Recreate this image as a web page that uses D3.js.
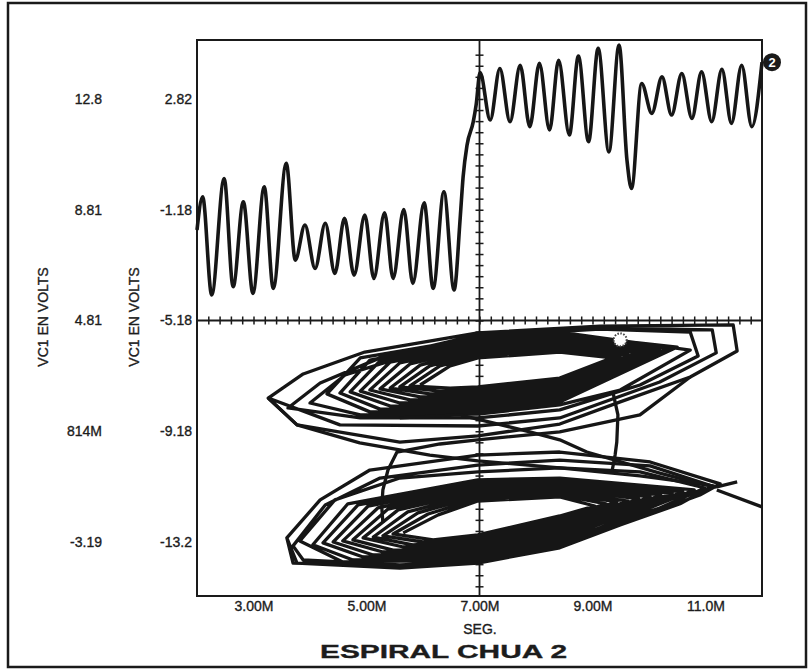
<!DOCTYPE html>
<html>
<head>
<meta charset="utf-8">
<script src="https://cdn.jsdelivr.net/npm/d3@7"></script>
<style>
  body { margin: 0; background: #fff; }
  svg text { font-family: 'Liberation Sans', Arial, sans-serif; fill: #1c1c1c; stroke: #1c1c1c; stroke-width: 0.35px; }
</style>
</head>
<body>
<div id="chart"></div>
<script>

// tick values and labels
var xTickValues = [3, 5, 7, 9, 11]
var xTickLabels = ['3.00M', '5.00M', '7.00M', '9.00M', '11.0M']
var yInnerTicks = [2.82, -1.18, -5.18, -9.18, -13.18]
var yInnerLabels = ['2.82', '-1.18', '-5.18', '-9.18', '-13.2']
var yOuterTicks = [12.8, 8.81, 4.81, 0.814, -3.19]
var yOuterLabels = ['12.8', '8.81', '4.81', '814M', '-3.19']

// VC1 against time (inner axis), peaks and troughs
var traceT = [2.00, 2.10, 2.26, 2.48, 2.64, 2.82, 2.99, 3.19, 3.35, 3.58, 3.74, 3.91, 4.09, 4.27, 4.44, 4.61,
  4.78, 4.97, 5.13, 5.32, 5.47, 5.66, 5.82, 6.02, 6.18, 6.37, 6.55, 6.66, 6.71, 6.78, 6.89, 6.94,
  7.01, 7.19, 7.36, 7.54, 7.72, 7.89, 8.06, 8.24, 8.40, 8.59, 8.75, 8.93, 9.10, 9.29, 9.47, 9.61,
  9.69, 9.87, 10.05, 10.23, 10.40, 10.58, 10.76, 10.93, 11.11, 11.29, 11.46, 11.64, 11.82, 12.00]
var traceV = [-1.91, -0.71, -4.26, -0.05, -3.96, -0.89, -4.20, -0.35, -4.02, 0.50, -3.00, -1.73, -3.30, -1.67, -3.48, -1.49,
  -3.54, -1.37, -3.66, -1.29, -3.66, -1.17, -3.84, -0.93, -4.02, -0.53, -4.08, -1.43, 0.01, 1.16, 2.00, 2.60,
  3.77, 2.06, 3.92, 2.00, 4.04, 1.82, 4.11, 1.70, 4.22, 1.52, 4.37, 1.28, 4.65, 0.91, 4.77, 0.61,
  -0.41, 3.38, 2.30, 3.62, 2.24, 3.74, 2.12, 3.80, 2.00, 3.89, 1.94, 4.04, 1.82, 4.15]

// double scroll (outer axis): loops of the upper scroll, inside out
var upperLoops = [
  [[5.95, 2.48], [6.48, 3.17], [6.97, 3.46], [8.42, 3.67], [9.35, 3.46], [8.42, 2.73], [6.97, 2.41], [6.48, 2.37]],
  [[5.77, 2.45], [6.30, 3.17], [6.97, 3.53], [8.42, 3.74], [9.49, 3.49], [8.42, 2.63], [6.97, 2.30], [6.30, 2.26]],
  [[5.59, 2.41], [6.12, 3.17], [6.97, 3.64], [8.42, 3.85], [9.63, 3.56], [8.42, 2.52], [6.97, 2.19], [6.12, 2.16]],
  [[5.42, 2.37], [5.95, 3.20], [6.97, 3.74], [8.42, 3.96], [9.77, 3.64], [8.42, 2.41], [6.97, 2.08], [5.95, 2.05]],
  [[5.24, 2.34], [5.77, 3.24], [6.97, 3.82], [8.42, 4.03], [9.91, 3.67], [8.42, 2.30], [6.97, 1.98], [5.77, 1.94]],
  [[5.06, 2.30], [5.59, 3.28], [6.97, 3.89], [8.42, 4.11], [10.05, 3.74], [8.42, 2.19], [6.97, 1.87], [5.59, 1.83]],
  [[4.89, 2.26], [5.42, 3.31], [6.97, 3.96], [8.42, 4.18], [10.19, 3.78], [8.42, 2.08], [6.97, 1.76], [5.42, 1.72]],
  [[4.71, 2.23], [5.24, 3.35], [6.97, 4.03], [8.42, 4.25], [10.34, 3.82], [8.42, 1.98], [6.97, 1.65], [5.24, 1.61]],
  [[4.53, 2.19], [5.06, 3.38], [6.97, 4.11], [8.42, 4.32], [10.50, 3.85], [8.42, 1.87], [6.97, 1.54], [5.06, 1.51]],
  [[4.30, 2.16], [4.89, 3.46], [6.97, 4.18], [8.42, 4.39], [10.73, 3.74], [9.49, 2.30], [8.42, 1.76], [6.97, 1.43], [4.89, 1.40]],
  [[4.00, 1.83], [4.62, 2.84], [5.59, 3.46], [6.97, 4.25], [9.13, 4.50], [10.73, 4.39], [10.87, 3.53], [9.84, 2.48], [8.42, 1.58], [6.97, 1.29], [4.89, 1.29]],
  [[3.61, 1.65], [4.18, 2.55], [5.24, 3.46], [6.97, 4.29], [9.13, 4.54], [11.12, 4.47], [11.19, 3.64], [10.19, 2.59], [8.42, 1.29], [6.97, 1.00], [4.53, 1.04]],
  [[3.26, 2.01], [3.88, 2.88], [4.97, 3.67], [6.97, 4.36], [9.13, 4.61], [11.49, 4.65], [11.56, 3.71], [10.73, 2.77], [9.49, 1.87], [8.42, 1.07], [6.97, 0.64], [5.59, 0.42], [3.77, 1.04], [3.26, 2.01]]
]

// loops of the lower scroll, inside out
var lowerLoops = [
  [[5.65, -2.86], [6.27, -2.21], [6.97, -1.71], [8.42, -1.56], [9.04, -1.89], [8.42, -2.25], [6.97, -2.93], [6.18, -3.11]],
  [[5.47, -2.90], [6.09, -2.18], [6.97, -1.63], [8.42, -1.49], [9.24, -1.81], [8.42, -2.36], [6.97, -3.04], [6.00, -3.19]],
  [[5.29, -2.97], [5.91, -2.14], [6.97, -1.53], [8.42, -1.42], [9.43, -1.74], [8.42, -2.46], [6.97, -3.15], [5.82, -3.29]],
  [[5.12, -3.01], [5.73, -2.10], [6.97, -1.45], [8.42, -1.35], [9.63, -1.71], [8.42, -2.57], [6.97, -3.22], [5.65, -3.37]],
  [[4.94, -3.04], [5.56, -2.03], [6.97, -1.38], [8.42, -1.27], [9.82, -1.63], [8.42, -2.68], [6.97, -3.33], [5.47, -3.48]],
  [[4.76, -3.11], [5.38, -2.00], [6.97, -1.31], [8.42, -1.20], [10.02, -1.56], [8.42, -2.79], [6.97, -3.44], [5.29, -3.55]],
  [[4.58, -3.15], [5.20, -1.96], [6.97, -1.20], [8.42, -1.13], [10.21, -1.49], [8.42, -2.90], [6.97, -3.55], [5.12, -3.66]],
  [[4.41, -3.19], [5.03, -1.89], [6.97, -1.13], [8.42, -1.06], [10.41, -1.42], [8.42, -3.01], [6.97, -3.62], [4.94, -3.73]],
  [[4.23, -3.22], [4.85, -1.85], [6.97, -1.06], [8.42, -0.98], [10.60, -1.38], [8.42, -3.11], [6.97, -3.73], [4.76, -3.84]],
  [[4.05, -3.29], [4.67, -1.81], [6.97, -0.95], [8.42, -0.88], [10.80, -1.31], [9.13, -2.68], [8.42, -3.22], [6.97, -3.84], [4.58, -3.91]],
  [[3.82, -3.15], [4.44, -1.67], [5.59, -0.88], [6.97, -0.66], [8.42, -0.51], [9.84, -0.66], [10.99, -1.24], [10.19, -1.96], [9.13, -2.68], [8.42, -3.29], [6.97, -3.91], [5.59, -4.02], [3.88, -3.84]],
  [[3.70, -3.33], [4.27, -1.85], [5.24, -0.88], [6.97, -0.41], [8.42, -0.23], [10.02, -0.44], [11.12, -1.17], [10.55, -1.81], [9.49, -2.57], [8.42, -3.40], [6.97, -3.95], [5.59, -4.13], [3.77, -3.95]],
  [[3.59, -3.04], [4.18, -1.67], [5.06, -0.59], [6.97, -0.05], [8.42, 0.06], [10.02, -0.30], [11.26, -1.09], [10.90, -1.49], [9.84, -2.28], [8.42, -3.29], [6.97, -3.91], [5.59, -4.05], [3.70, -3.95], [3.59, -3.04]]
]

// jumps between the scrolls and the exit at the right
var transits = [
  [[3.26, 2.01], [3.77, 1.04], [4.88, 0.39], [6.12, -0.05], [6.97, -0.26], [8.42, -0.51], [9.84, -0.80], [10.90, -1.09], [11.20, -1.20]],
  [[5.59, 1.29], [6.65, 1.40], [7.89, 0.79], [8.42, 0.50], [8.90, 0.06], [10.19, -0.70], [10.78, -1.02], [11.20, -1.20]],
  [[5.29, -2.50], [5.27, -1.92], [5.29, -1.31], [5.38, -0.59], [5.54, 0.06], [6.30, 0.35], [6.97, 0.50], [8.42, 0.79], [9.84, 1.40], [10.73, 2.77]],
  [[9.36, 2.23], [9.45, 1.40], [9.43, 0.42], [9.40, -0.05], [9.35, -0.59]],
  [[11.20, -1.20], [11.56, -1.02]],
  [[11.20, -1.31], [12.00, -1.92]]
]
var startPoint = [9.49, 4.11]

// margins, height, width
var margin = { top: 40, right: 46, bottom: 76, left: 197 }
var w = 808 - margin.left - margin.right
var h = 672 - margin.top - margin.bottom

var svg = d3.select('#chart').append('svg')
  .attr('width', 808)
  .attr('height', 672)

// outer frame
svg.append('rect')
  .attr('x', 8).attr('y', 3)
  .attr('width', 798).attr('height', 664)
  .attr('fill', 'none')
  .attr('stroke', '#1a1a1a')
  .attr('stroke-width', 2.5)

var g = svg.append('g')
  .attr('transform', 'translate(' + margin.left + ',' + margin.top + ')')

// scales
var x = d3.scaleLinear().domain([2, 12]).range([0, w])
var yIn = d3.scaleLinear().domain([-15.13, 4.95]).range([h, 0])
var yOut = d3.scaleLinear().domain([-5.14, 14.94]).range([h, 0])

// plot box
g.append('rect')
  .attr('width', w).attr('height', h)
  .attr('fill', 'none')
  .attr('stroke', '#1a1a1a')
  .attr('stroke-width', 2)

// cross hair through 7.00M / -5.18
var y0 = yIn(-5.18)
g.append('line')
  .attr('x1', 0).attr('x2', w).attr('y1', y0).attr('y2', y0)
  .attr('stroke', '#1a1a1a').attr('stroke-width', 1.8)
g.append('line')
  .attr('x1', x(7)).attr('x2', x(7)).attr('y1', 0).attr('y2', h)
  .attr('stroke', '#1a1a1a').attr('stroke-width', 1.8)

var hTicks = g.append('g')
  .attr('transform', 'translate(0,' + (y0 - 4) + ')')
  .call(d3.axisBottom(x)
    .tickValues(d3.range(11, 60).map(function(i) { return i / 5 }))
    .tickSize(8)
    .tickFormat(''))
var vTicks = g.append('g')
  .attr('transform', 'translate(' + (x(7) + 4) + ',0)')
  .call(d3.axisLeft(yIn)
    .tickValues(d3.range(-24, 25).map(function(k) { return -5.18 + k * 0.4 }))
    .tickSize(8)
    .tickFormat(''))
hTicks.select('.domain').remove()
vTicks.select('.domain').remove()
g.selectAll('.tick line').attr('stroke', '#1a1a1a').attr('stroke-width', 1.5)

// tick labels
function styleLabels(sel) {
  sel.select('.domain').remove()
  sel.attr('font-size', 14)
    .attr('font-family', "'Liberation Sans', Arial, sans-serif")
  sel.selectAll('text').attr('fill', '#1c1c1c')
}
g.append('g')
  .attr('transform', 'translate(-5,0)')
  .call(d3.axisLeft(yIn)
    .tickValues(yInnerTicks)
    .tickFormat(function(d, i) { return yInnerLabels[i] })
    .tickSize(0).tickPadding(0))
  .call(styleLabels)
g.append('g')
  .attr('transform', 'translate(-95,0)')
  .call(d3.axisLeft(yOut)
    .tickValues(yOuterTicks)
    .tickFormat(function(d, i) { return yOuterLabels[i] })
    .tickSize(0).tickPadding(0))
  .call(styleLabels)
g.append('g')
  .attr('transform', 'translate(0,' + h + ')')
  .call(d3.axisBottom(x)
    .tickValues(xTickValues)
    .tickFormat(function(d, i) { return xTickLabels[i] })
    .tickSize(0).tickPadding(5))
  .call(styleLabels)

// the time trace
var traceLine = d3.line()
  .x(function(d, i) { return x(traceT[i]) })
  .y(function(d) { return yIn(d) })
  .curve(d3.curveMonotoneX)
g.append('path')
  .datum(traceV)
  .attr('d', traceLine)
  .attr('fill', 'none')
  .attr('stroke', '#161616')
  .attr('stroke-width', 3.6)
  .attr('stroke-linejoin', 'round')

// the double scroll, each scroll as one spiral
var orbit = d3.line()
  .x(function(d) { return x(d[0]) })
  .y(function(d) { return yOut(d[1]) })
var spirals = [d3.merge(upperLoops), d3.merge(lowerLoops)]
g.selectAll('.spiral')
  .data(spirals.concat(transits))
  .enter().append('path')
  .attr('class', 'spiral')
  .attr('d', orbit)
  .attr('fill', 'none')
  .attr('stroke', '#161616')
  .attr('stroke-width', 3.3)
  .attr('stroke-linejoin', 'round')

// start marker of the orbit
g.append('circle')
  .attr('cx', x(startPoint[0])).attr('cy', yOut(startPoint[1]))
  .attr('r', 6.5)
  .attr('fill', '#fff')
  .attr('stroke', '#444')
  .attr('stroke-width', 2)
  .attr('stroke-dasharray', '1.5,1.5')

// trace number badge at the end of the trace
var endX = x(traceT[traceT.length - 1]) + 10
var endY = yIn(traceV[traceV.length - 1])
g.append('circle')
  .attr('cx', endX).attr('cy', endY).attr('r', 9)
  .attr('fill', '#1a1a1a')
g.append('text')
  .attr('x', endX).attr('y', endY + 4.5)
  .attr('text-anchor', 'middle')
  .attr('font-size', 13)
  .attr('font-weight', 'bold')
  .style('fill', '#fff')
  .style('stroke', 'none')
  .text('2')

// axis titles
svg.append('text')
  .attr('transform', 'translate(48,317) rotate(-90)')
  .attr('text-anchor', 'middle')
  .attr('font-size', 14)
  .text('VC1 EN VOLTS')
svg.append('text')
  .attr('transform', 'translate(139,317) rotate(-90)')
  .attr('text-anchor', 'middle')
  .attr('font-size', 14)
  .text('VC1 EN VOLTS')
svg.append('text')
  .attr('x', 480).attr('y', 634)
  .attr('text-anchor', 'middle')
  .attr('font-size', 14)
  .text('SEG.')
svg.append('text')
  .attr('x', 320).attr('y', 658)
  .attr('font-size', 19)
  .attr('font-weight', 'bold')
  .attr('textLength', 247)
  .attr('lengthAdjust', 'spacingAndGlyphs')
  .text('ESPIRAL CHUA 2')

</script>
</body>
</html>
